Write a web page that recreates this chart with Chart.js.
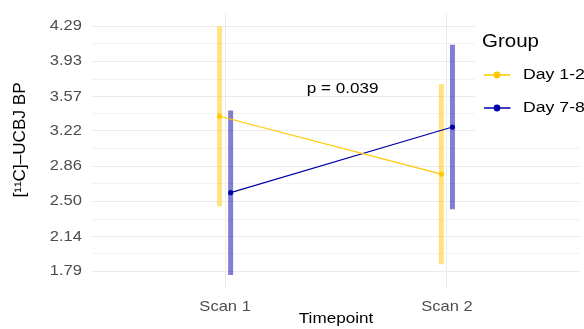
<!DOCTYPE html>
<html>
<head>
<meta charset="utf-8">
<script src="https://cdn.jsdelivr.net/npm/chart.js@4.4.0/dist/chart.umd.min.js"></script>
<style>
  html, body { margin: 0; padding: 0; background: #fff; }
  #wrap { width: 584px; height: 329px; }
</style>
</head>
<body>
<div id="wrap"><canvas id="bpChart" width="584" height="329"></canvas></div>
<script>
// group means and half-widths of the error bars, per timepoint
var timepoints = ['Scan 1', 'Scan 2'];
var groups = ['Day 1-2', 'Day 7-8'];
var meanDay12 = [3.37, 2.78];
var errDay12 = [0.92, 0.92];
var meanDay78 = [2.59, 3.26];
var errDay78 = [0.84, 0.84];
var yTickLabels = ['1.79', '2.14', '2.50', '2.86', '3.22', '3.57', '3.93', '4.29'];
var pText = 'p = 0.039';
var pAt = {x: 1.53, y: 3.65};

var lineColors = ['#FFC800', '#0000AA'];
var barColors = ['rgba(255,200,0,0.5)', 'rgba(0,0,170,0.5)'];
var dodge = [-0.025, 0.025];
var FONT = '"Liberation Sans", Arial, Helvetica, sans-serif';
var WIDE = 1.14; // text is set a bit wider than plain Arial

var means = [meanDay12, meanDay78];
var errs = [errDay12, errDay78];

var datasets = [];
for (var g = 0; g < groups.length; ++g) {
  // mean line with points
  datasets.push({
    label: groups[g],
    data: timepoints.map(function (t, i) { return {x: i + 1 + dodge[g], y: means[g][i]}; }),
    borderColor: lineColors[g],
    backgroundColor: lineColors[g],
    borderWidth: 1.2,
    pointRadius: 2.6,
    pointBorderWidth: 0,
    order: 1
  });
  // error bar for each timepoint
  for (var i = 0; i < timepoints.length; ++i) {
    datasets.push({
      label: groups[g] + ' error',
      data: [
        {x: i + 1 + dodge[g], y: means[g][i] - errs[g][i]},
        {x: i + 1 + dodge[g], y: means[g][i] + errs[g][i]}
      ],
      borderColor: barColors[g],
      borderWidth: 5,
      borderCapStyle: 'butt',
      pointRadius: 0,
      order: 2
    });
  }
}

function wideText(ctx, text, x, y, size, color, align, baseline, rot) {
  ctx.save();
  ctx.translate(x, y);
  if (rot) ctx.rotate(rot);
  ctx.scale(WIDE, 1);
  ctx.font = size + 'px ' + FONT;
  ctx.fillStyle = color;
  ctx.textAlign = align;
  ctx.textBaseline = baseline;
  ctx.fillText(text, 0, 0);
  ctx.restore();
}

// tick labels, legend box, axis titles and the p-value text
var extras = {
  id: 'extras',
  beforeDatasetsDraw: function (chart) {
    var ctx = chart.ctx;
    ctx.save();
    ctx.fillStyle = '#fff';
    ctx.fillRect(475, 0, chart.width - 475, 140);
    ctx.restore();
  },
  afterDraw: function (chart) {
    var ctx = chart.ctx;
    var area = chart.chartArea;
    var xs = chart.scales.x, ys = chart.scales.y;

    xs.ticks.forEach(function (t) {
      wideText(ctx, timepoints[t.value - 1], xs.getPixelForValue(t.value), 310.5, 14.5, '#4D4D4D', 'center', 'alphabetic');
    });
    ys.ticks.forEach(function (t) {
      if (t.minor) return;
      wideText(ctx, t.text, area.left - 10, ys.getPixelForValue(t.value), 14.5, '#4D4D4D', 'right', 'middle');
    });

    // axis titles
    wideText(ctx, 'Timepoint', (area.left + area.right) / 2, 322.5, 15, '#000', 'center', 'alphabetic');
    ctx.save();
    ctx.translate(24.5, 140);
    ctx.rotate(-Math.PI / 2);
    ctx.scale(1.07, 1);
    ctx.font = '16px ' + FONT;
    ctx.fillStyle = '#000';
    ctx.textAlign = 'center';
    ctx.textBaseline = 'alphabetic';
    ctx.fillText('[\u00B9\u00B9C]\u2013UCBJ BP', 0, 0);
    ctx.restore();

    // p value
    wideText(ctx, pText, xs.getPixelForValue(pAt.x), ys.getPixelForValue(pAt.y), 15, '#000', 'center', 'middle');

    // legend
    wideText(ctx, 'Group', 482, 46.5, 18, '#000', 'left', 'alphabetic');
    for (var g = 0; g < groups.length; ++g) {
      var ky = 75 + g * 33;
      ctx.save();
      ctx.strokeStyle = lineColors[g];
      ctx.lineWidth = 1.5;
      ctx.beginPath();
      ctx.moveTo(484, ky);
      ctx.lineTo(510.5, ky);
      ctx.stroke();
      ctx.fillStyle = lineColors[g];
      ctx.beginPath();
      ctx.arc(497, ky, 3.4, 0, Math.PI * 2);
      ctx.fill();
      ctx.restore();
      wideText(ctx, groups[g], 523, ky, 15.5, '#000', 'left', 'middle');
    }
  }
};

var ctx = document.getElementById('bpChart');
var bpChart = new Chart(ctx, {
  type: 'line',
  data: {datasets: datasets},
  options: {
    responsive: false,
    animation: false,
    devicePixelRatio: 1,
    layout: {padding: {top: 13, right: 2, left: 0, bottom: 0}},
    plugins: {legend: {display: false}, tooltip: {enabled: false}},
    scales: {
      x: {
        type: 'linear',
        min: 0.4,
        max: 2.6,
        afterBuildTicks: function (scale) {
          scale.ticks = timepoints.map(function (t, i) { return {value: i + 1}; });
        },
        afterFit: function (scale) { scale.height = 41; },
        ticks: {display: false, autoSkip: false},
        grid: {color: '#EBEBEB', drawTicks: false},
        border: {display: false}
      },
      y: {
        type: 'linear',
        min: 1.617,
        max: 4.424,
        afterBuildTicks: function (scale) {
          var t = [];
          for (var i = 0; i < yTickLabels.length; ++i) {
            var v = parseFloat(yTickLabels[i]);
            t.push({value: v, text: yTickLabels[i]});
            if (i < yTickLabels.length - 1) {
              t.push({value: (v + parseFloat(yTickLabels[i + 1])) / 2, minor: true});
            }
          }
          scale.ticks = t;
        },
        afterFit: function (scale) { scale.width = 92; },
        ticks: {display: false, autoSkip: false},
        grid: {
          color: function (c) { return (c.tick && c.tick.minor) ? '#F3F3F3' : '#EBEBEB'; },
          drawTicks: false
        },
        border: {display: false}
      }
    }
  },
  plugins: [extras]
});
</script>
</body>
</html>
